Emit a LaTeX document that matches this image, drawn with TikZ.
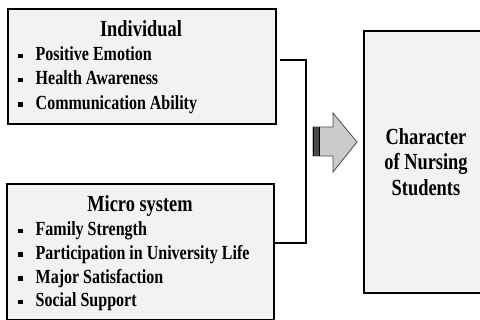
\documentclass[tikz,border=0pt]{standalone}
\usepackage{fontspec}
\setmainfont{Liberation Serif}[FakeStretch=0.8]
\definecolor{boxfill}{HTML}{F2F2F2}
\definecolor{arrfill}{HTML}{CBCBCB}
\definecolor{arrline}{HTML}{4A4A4A}
\newcommand\mybullet{\makebox[17.5pt][l]{\rule[2.5pt]{4.5pt}{4.5pt}}}
\begin{document}
\begin{tikzpicture}[x=1pt,y=-1pt,
  box/.style={draw=black,line width=1.8pt,fill=boxfill,inner sep=0pt,anchor=north west},
  ttl/.style={font=\bfseries\fontsize{23}{26}\selectfont,inner sep=0pt,anchor=base},
  itm/.style={font=\bfseries\fontsize{20}{24}\selectfont,inner sep=0pt,anchor=base west},
  conn/.style={line width=1.8pt,line join=miter}]
\useasboundingbox (0,0) rectangle (480,320);
% boxes
\node[box,minimum width=268pt,minimum height=115pt] (top) at (7,8) {};
\node[box,minimum width=267pt,minimum height=136pt] (bot) at (6,183) {};
\node[box,anchor=center,minimum width=124pt,minimum height=262pt,align=center,
      font=\bfseries\fontsize{23}{25.6}\selectfont] (char) at (426,162)
      {Character\\of Nursing\\Students};
% top box texts
\node[ttl] (t1) at (141,37) {Individual};
\node[itm] (t2) at (18,60.7) {\mybullet Positive Emotion};
\node[itm] (t3) at (18,85) {\mybullet Health Awareness};
\node[itm] (t4) at (18,109.3) {\mybullet Communication Ability};
% bottom box texts
\node[ttl] (b1) at (140,211.7) {Micro system};
\node[itm] (b2) at (18,235.7) {\mybullet Family Strength};
\node[itm] (b3) at (18,259.5) {\mybullet Participation in University Life};
\node[itm] (b4) at (18,283.3) {\mybullet Major Satisfaction};
\node[itm] (b5) at (18,307) {\mybullet Social Support};
% bracket connector
\draw[conn] (top.east) ++(3,-6.5) -- ++(26,0) |- ([yshift=9pt]bot.east);
% block arrow
\draw[arrline,line width=0.8pt,fill=arrfill,line join=miter]
  (313,127) -- (333,127) -- (333,113) -- (357,142) -- (333,172) -- (333,156) -- (313,156) -- cycle;
\fill[arrline] (313,127) rectangle (318.5,156);
\draw[black,line width=1pt] (313.5,127) -- (313.5,156);
\draw[black,line width=1pt] (319.5,127) -- (319.5,156);
\end{tikzpicture}
\end{document}
